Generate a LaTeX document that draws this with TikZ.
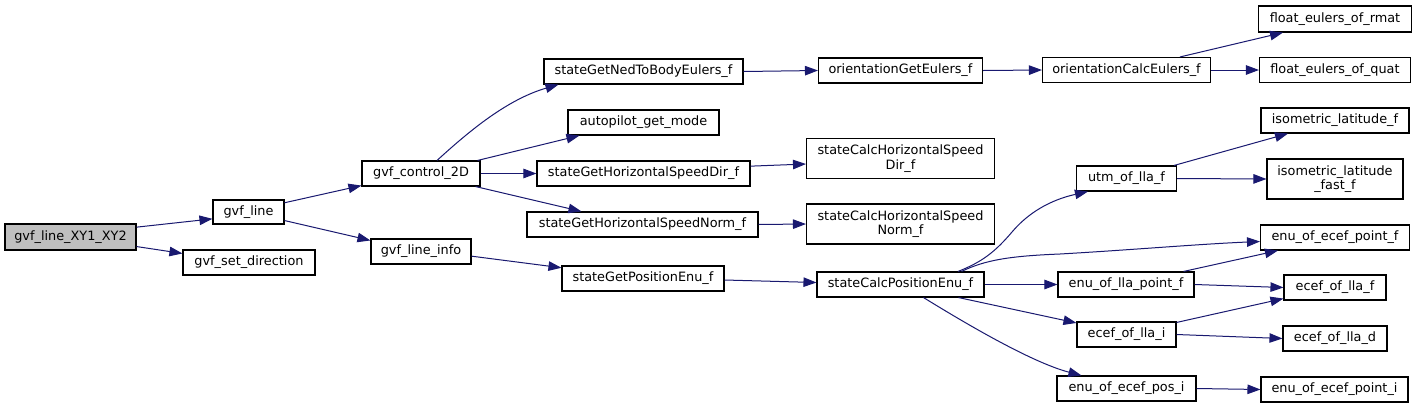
\documentclass[tikz,border=0pt]{standalone}
\usepackage{fontspec}
\setmainfont{DejaVu Sans}
\usetikzlibrary{arrows.meta,calc}
\definecolor{edgeblue}{RGB}{25,25,112}
\definecolor{rootgray}{RGB}{191,191,191}
\tikzset{
  fn/.style={draw=black, line width=1.1pt, fill=white, rectangle, inner sep=0pt,
    align=center, font=\fontsize{12.85}{14.4}\selectfont},
  edge/.style={draw=edgeblue, line width=1pt, -{Triangle[length=13pt,width=9.5pt]}},
}
\begin{document}
\begin{tikzpicture}[x=1pt,y=-1pt]
\useasboundingbox[fill=white] (0,0) rectangle (1417,408);
% column 0/1/2
\node[fn, fill=rootgray, minimum width=131pt, minimum height=26pt] (root) at (70.5,237) {gvf\_line\_XY1\_XY2};
\node[fn, minimum width=71pt, minimum height=24pt] (gvfline) at (248.5,212) {gvf\_line};
\node[fn, minimum width=132pt, minimum height=25pt] (setdir) at (249,262.5) {gvf\_set\_direction};
\node[fn, minimum width=118pt, minimum height=25pt] (gc) at (421,173.5) {gvf\_control\_2D};
\node[fn, minimum width=100pt, minimum height=25pt] (lineinfo) at (421,251.5) {gvf\_line\_info};
% column 3
\node[fn, minimum width=199pt, minimum height=25pt] (ned) at (643.5,71.5) {stateGetNedToBodyEulers\_f};
\node[fn, minimum width=151pt, minimum height=25pt] (ap) at (643.5,122.5) {autopilot\_get\_mode};
\node[fn, minimum width=213pt, minimum height=25pt] (hsd) at (643.5,173.5) {stateGetHorizontalSpeedDir\_f};
\node[fn, minimum width=231pt, minimum height=25pt] (hsn) at (642.5,224.5) {stateGetHorizontalSpeedNorm\_f};
\node[fn, minimum width=162pt, minimum height=25pt] (gpe) at (643,278.5) {stateGetPositionEnu\_f};
% column 4
\node[fn, minimum width=164pt, minimum height=25pt] (oge) at (900.5,70.5) {orientationGetEulers\_f};
\node[fn, minimum width=188pt, minimum height=40pt] (chsd) at (900.5,158.5) {stateCalcHorizontalSpeed\\Dir\_f};
\node[fn, minimum width=188pt, minimum height=40pt] (chsn) at (900.5,224) {stateCalcHorizontalSpeed\\Norm\_f};
\node[fn, minimum width=167pt, minimum height=25pt] (cpe) at (900.5,284.5) {stateCalcPositionEnu\_f};
% column 5
\node[fn, minimum width=168pt, minimum height=25pt] (oce) at (1126.5,70) {orientationCalcEulers\_f};
\node[fn, minimum width=100pt, minimum height=25pt] (utm) at (1126.5,178.5) {utm\_of\_lla\_f};
\node[fn, minimum width=136pt, minimum height=25pt] (elpf) at (1126,284.5) {enu\_of\_lla\_point\_f};
\node[fn, minimum width=99pt, minimum height=25pt] (eli) at (1126.5,334.5) {ecef\_of\_lla\_i};
\node[fn, minimum width=139pt, minimum height=25pt] (eepi) at (1126.5,388.5) {enu\_of\_ecef\_pos\_i};
% column 6
\node[fn, minimum width=153pt, minimum height=26pt] (rmat) at (1335,19) {float\_eulers\_of\_rmat};
\node[fn, minimum width=151pt, minimum height=25pt] (quat) at (1335,70) {float\_eulers\_of\_quat};
\node[fn, minimum width=148pt, minimum height=25pt] (iso) at (1335,120.5) {isometric\_latitude\_f};
\node[fn, minimum width=136pt, minimum height=40pt] (isof) at (1335,179) {isometric\_latitude\\\_fast\_f};
\node[fn, minimum width=149pt, minimum height=25pt] (eepf) at (1335,237.5) {enu\_of\_ecef\_point\_f};
\node[fn, minimum width=102pt, minimum height=25pt] (elf) at (1335,287.5) {ecef\_of\_lla\_f};
\node[fn, minimum width=104pt, minimum height=25pt] (eld) at (1335,338.5) {ecef\_of\_lla\_d};
\node[fn, minimum width=147pt, minimum height=25pt] (eept) at (1334.5,389.5) {enu\_of\_ecef\_point\_i};
% edges
\draw[edge] ($(root.north east)+(0,3.7)$) -- ($(gvfline.south west)+(0,-5.7)$);
\draw[edge] ($(root.south east)+(0,-4)$) -- ($(setdir.north west)+(0,4)$);
\draw[edge] ($(gvfline.north east)+(0,3.3)$) -- ($(gc.south west)+(0,-1)$);
\draw[edge] ($(gvfline.south east)+(0,-4)$) -- ($(lineinfo.north west)+(0,2)$);
\draw[edge] ($(gc.north)+(16,0)$) .. controls (465,135) and (505,100) .. ($(ned.south)+(-85,0)$);
\draw[edge] ($(gc.north east)+(-3,0)$) -- ($(ap.south west)+(12,0)$);
\draw[edge] (gc.east) -- (hsd.west);
\draw[edge] ($(gc.south east)+(-5,0)$) -- ($(hsn.north west)+(55,0)$);
\draw[edge] (ned.east) -- (oge.west);
\draw[edge] (oge.east) -- (oce.west);
\draw[edge] ($(oce.north)+(53.5,0)$) -- ($(rmat.south)+(-52,0)$);
\draw[edge] (oce.east) -- (quat.west);
\draw[edge] ($(hsd.north east)+(0,5.7)$) -- ($(chsd.west)+(0,5.5)$);
\draw[edge] (hsn.east) -- (chsn.west);
\draw[edge] ($(lineinfo.north east)+(0,17.7)$) -- ($(gpe.north west)+(0,2.3)$);
\draw[edge] ($(gpe.east)+(0,1.5)$) -- ($(cpe.west)+(0,-2)$);
\draw[edge] ($(cpe.north)+(57.5,0)$) .. controls (982,262) and (995,252) .. (1012,232)
  .. controls (1028,213) and (1050,200) .. ($(utm.south west)+(12,0)$);
\draw[edge] ($(cpe.north)+(61,0)$) .. controls (985,260) and (1010,256) .. (1060,254)
  .. controls (1130,250) and (1200,244) .. ($(eepf.west)+(0,4)$);
\draw[edge] (cpe.east) -- (elpf.west);
\draw[edge] ($(cpe.south)+(58,0)$) -- ($(eli.north west)+(0,1.5)$);
\draw[edge] ($(cpe.south)+(23,0)$) .. controls (960,320) and (1030,362) .. ($(eepi.north west)+(25,0)$);
\draw[edge] ($(utm.north east)+(-3,0)$) -- ($(iso.south)+(-47,0)$);
\draw[edge] (utm.east) -- (isof.west);
\draw[edge] ($(elpf.north east)+(-11,0)$) -- ($(eepf.south west)+(18,0)$);
\draw[edge] (elpf.east) -- (elf.west);
\draw[edge] ($(eli.north east)+(0,1)$) -- ($(elf.south west)+(0,-2)$);
\draw[edge] (eli.east) -- (eld.west);
\draw[edge] (eepi.east) -- (eept.west);
\end{tikzpicture}
\end{document}
